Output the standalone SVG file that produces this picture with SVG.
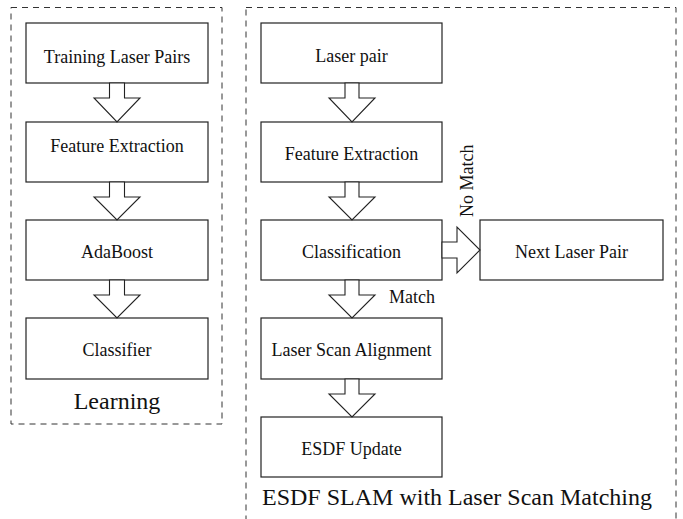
<svg xmlns="http://www.w3.org/2000/svg" width="683" height="519" viewBox="0 0 683 519">
  <style>
    .frame { fill: none; stroke: #333; stroke-width: 1; stroke-dasharray: 6 5; }
    .box { fill: #fff; stroke: #222; stroke-width: 1.2; }
    .arrow { fill: #fff; stroke: #222; stroke-width: 1.1; stroke-linejoin: miter; }
    .lbl { font-family: 'Liberation Serif', 'DejaVu Serif', serif; font-size: 18px; fill: #111; text-anchor: middle; }
    .title { font-family: 'Liberation Serif', 'DejaVu Serif', serif; font-size: 24px; fill: #111; text-anchor: middle; }
    .tag { font-family: 'Liberation Serif', 'DejaVu Serif', serif; font-size: 18px; fill: #111; }
  </style>

  <!-- dashed grouping frames -->
  <g id="frames">
    <rect class="frame" x="11" y="7.5" width="211" height="416.5"/>
    <rect class="frame" x="246" y="7.5" width="430" height="520"/>
    <text class="title" x="117" y="409">Learning</text>
    <text class="title" x="457" y="505">ESDF SLAM with Laser Scan Matching</text>
  </g>

  <!-- learning pipeline -->
  <g id="training-laser-pairs">
    <rect class="box" x="26" y="23" width="182" height="60"/>
    <text class="lbl" x="117" y="63">Training Laser Pairs</text>
  </g>
  <g id="feature-extraction-learn">
    <rect class="box" x="26" y="122" width="182" height="60"/>
    <text class="lbl" x="117" y="152">Feature Extraction</text>
  </g>
  <g id="adaboost">
    <rect class="box" x="26" y="220" width="182" height="60"/>
    <text class="lbl" x="117" y="258">AdaBoost</text>
  </g>
  <g id="classifier">
    <rect class="box" x="26" y="318" width="182" height="61"/>
    <text class="lbl" x="117" y="356">Classifier</text>
  </g>

  <!-- SLAM pipeline -->
  <g id="laser-pair">
    <rect class="box" x="261" y="23" width="181" height="60"/>
    <text class="lbl" x="351.5" y="62">Laser pair</text>
  </g>
  <g id="feature-extraction-slam">
    <rect class="box" x="261" y="122" width="181" height="60"/>
    <text class="lbl" x="351.5" y="160">Feature Extraction</text>
  </g>
  <g id="classification">
    <rect class="box" x="261" y="220" width="181" height="60"/>
    <text class="lbl" x="351.5" y="258">Classification</text>
  </g>
  <g id="next-laser-pair">
    <rect class="box" x="480" y="220" width="183" height="60"/>
    <text class="lbl" x="571.5" y="258">Next Laser Pair</text>
  </g>
  <g id="laser-scan-alignment">
    <rect class="box" x="261" y="318" width="181" height="61"/>
    <text class="lbl" x="351.5" y="356">Laser Scan Alignment</text>
  </g>
  <g id="esdf-update">
    <rect class="box" x="261" y="417" width="181" height="60"/>
    <text class="lbl" x="351.5" y="455">ESDF Update</text>
  </g>

  <!-- block arrows -->
  <g id="connectors">
    <polygon class="arrow" points="109.5,83 124.5,83 124.5,98 140,98 117,122 94,98 109.5,98"/>
    <polygon class="arrow" points="109.5,182 124.5,182 124.5,197 140,197 117,220 94,197 109.5,197"/>
    <polygon class="arrow" points="109.5,280 124.5,280 124.5,295 140,295 117,318 94,295 109.5,295"/>

    <polygon class="arrow" points="345,83 359,83 359,98 375,98 352,122 329,98 345,98"/>
    <polygon class="arrow" points="345,182 359,182 359,197 375,197 352,220 329,197 345,197"/>
    <polygon class="arrow" points="345,280 359,280 359,295 375,295 352,318 329,295 345,295"/>
    <polygon class="arrow" points="345,379 359,379 359,394 375,394 352,417 329,394 345,394"/>

    <polygon class="arrow" points="442,242 457,242 457,227 480,250 457,273 457,258 442,258"/>

    <text class="tag" x="389" y="303">Match</text>
    <text class="tag" transform="translate(473,217) rotate(-90)">No Match</text>
  </g>
</svg>
